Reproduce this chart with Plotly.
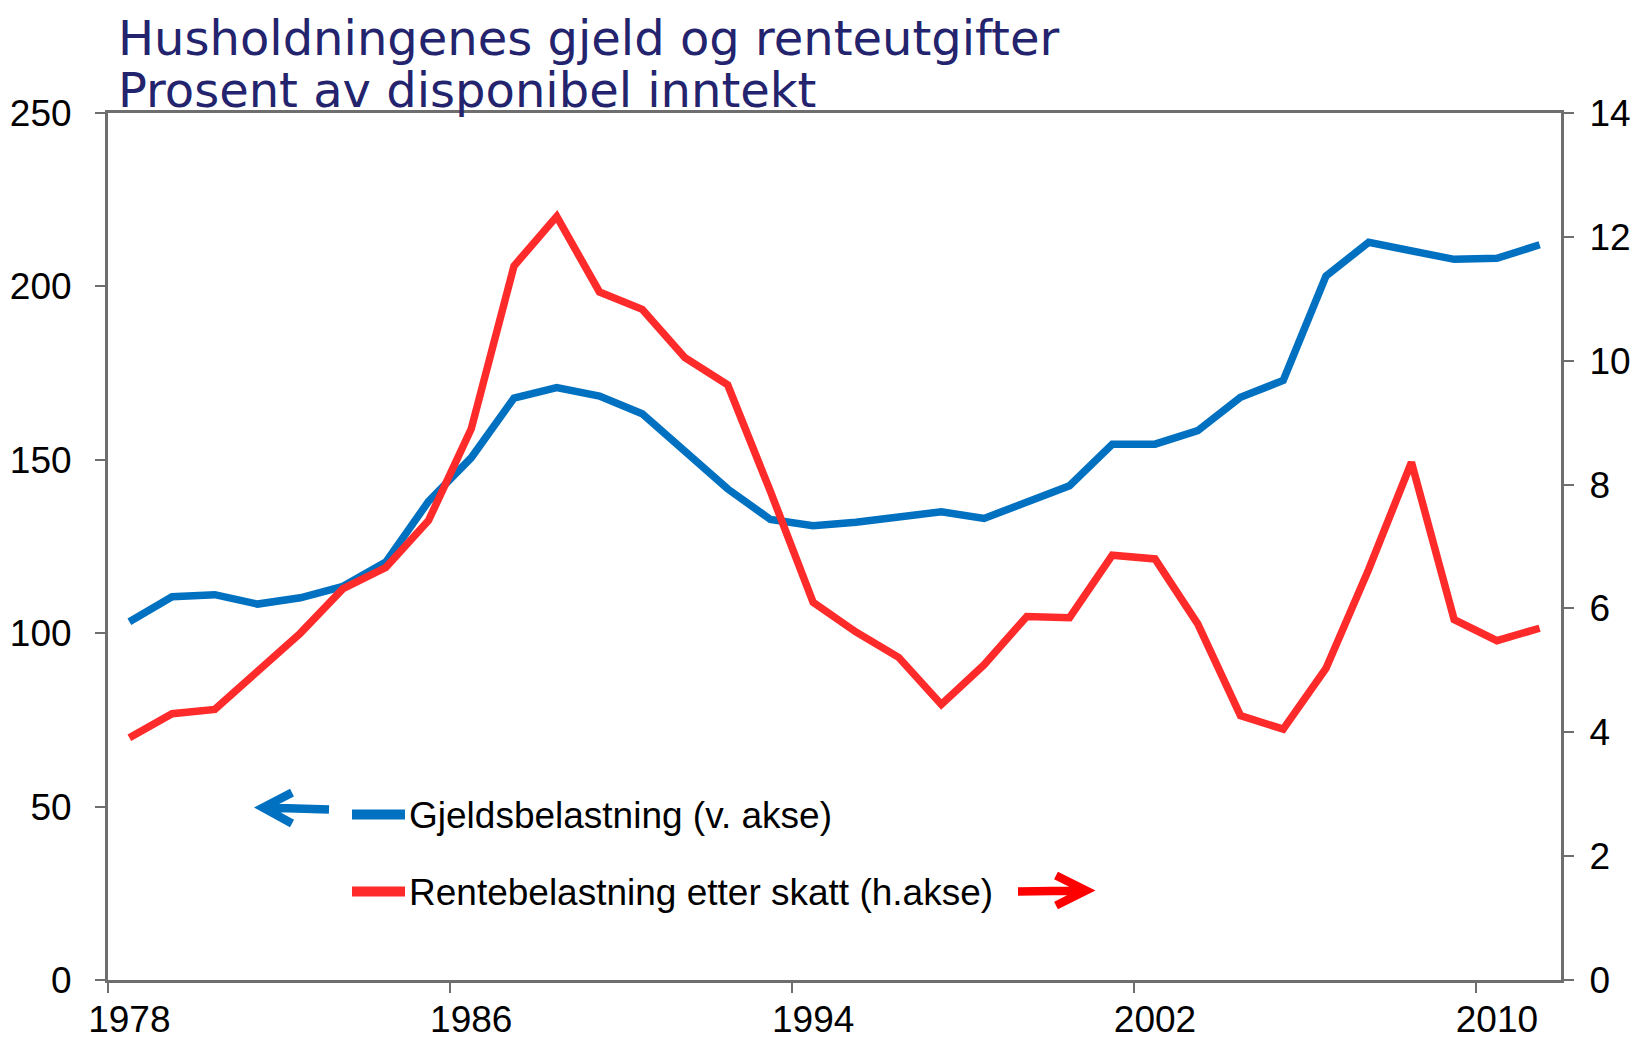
import plotly.graph_objects as go

years = list(range(1978, 2012))
gjeld = [103.3, 110.5, 111.1, 108.4, 110.2, 113.5, 120.5, 138.0, 150.6, 167.8,
         170.8, 168.4, 163.3, 152.4, 141.6, 132.8, 131.0, 132.0, 133.4, 135.0,
         133.1, 138.0, 142.5, 154.5, 154.5, 158.4, 168.0, 172.9, 203.0, 212.7,
         210.5, 207.8, 208.1, 212.0]
rente = [3.91, 4.30, 4.37, 4.97, 5.60, 6.32, 6.66, 7.42, 8.90, 11.53,
         12.33, 11.11, 10.83, 10.05, 9.61, 7.89, 6.10, 5.62, 5.21, 4.45,
         5.09, 5.87, 5.85, 6.86, 6.80, 5.75, 4.27, 4.05, 5.03, 6.63,
         8.36, 5.82, 5.48, 5.68]
tick_labels = ["1978", "1986", "1994", "2002", "2010"]
names = ["Gjeldsbelastning (v. akse)", "Rentebelastning etter skatt (h.akse)"]
title_lines = ["Husholdningenes gjeld og renteutgifter", "Prosent av disponibel inntekt"]

BLUE = "#0070C0"
RED = "#FF2A2A"
AX = "#6E6E6E"
OFF = 8  # default page body margin in the browser
W, H = 1639 - OFF, 1042 - OFF
# plot-area edges in screen pixels
L, R, T, B = 108, 1561, 113, 980.5

def px(xp):
    return (xp - L) / (R - L)

def py(yp):
    return (B - yp) / (B - T)

fig = go.Figure()
fig.add_trace(go.Scatter(x=years, y=gjeld, mode="lines", name=names[0],
                         line=dict(color=BLUE, width=7.5), showlegend=False))
fig.add_trace(go.Scatter(x=years, y=rente, mode="lines", name=names[1],
                         xaxis="x2", yaxis="y2",
                         line=dict(color=RED, width=7.5), showlegend=False))

xrange = [years[0] - 0.5, years[-1] + 0.5]
tick_marks = [int(t) - 0.5 for t in tick_labels]   # tick marks between categories
label_pos = [int(t) for t in tick_labels]          # labels centred on the category
font = dict(family="Liberation Sans, Arial, sans-serif", size=37, color="black")

fig.update_layout(
    width=W, height=H,
    margin=dict(l=L - OFF, r=1639 - R, t=T - OFF, b=1042 - B),
    plot_bgcolor="white", paper_bgcolor="white",
    font=font,
    xaxis=dict(range=xrange, tickvals=tick_marks, showticklabels=False,
               showline=True, linecolor=AX, linewidth=3, mirror=True,
               ticks="outside", ticklen=10, tickwidth=2, tickcolor=AX, automargin=False,
               showgrid=False, zeroline=False),
    xaxis2=dict(range=xrange, overlaying="x", side="bottom", tickvals=label_pos,
                ticktext=tick_labels, ticks="", showline=False, showgrid=False,
                zeroline=False, automargin=False, ticklabelstandoff=14, tickfont=font),
    yaxis=dict(range=[0, 250], dtick=50, showline=True, linecolor=AX, linewidth=3,
               ticks="outside", ticklen=10, tickwidth=2, tickcolor=AX, automargin=False,
               showgrid=False, zeroline=False, ticklabelstandoff=16, tickfont=font),
    yaxis2=dict(range=[0, 14], dtick=2, overlaying="y", side="right", showline=True,
                linecolor=AX, linewidth=3, ticks="outside", ticklen=10, tickwidth=2,
                tickcolor=AX, showgrid=False, zeroline=False, ticklabelstandoff=8,
                automargin=False, tickfont=font),
)

# Title
title_font = dict(family="DejaVu Sans, Verdana, sans-serif", size=48, color="#23236E")
for txt, yc in zip(title_lines, [38, 90]):
    fig.add_annotation(text=txt, xref="paper", yref="paper", x=px(116), y=py(yc),
                       xanchor="left", yanchor="middle", showarrow=False, font=title_font)

# Legend (manual)
for col, yc, txt in [(BLUE, 815, names[0]), (RED, 892, names[1])]:
    fig.add_shape(type="line", xref="paper", yref="paper", x0=px(352), x1=px(405),
                  y0=py(yc), y1=py(yc), line=dict(color=col, width=10))
    fig.add_annotation(text=txt, xref="paper", yref="paper", x=px(407), y=py(yc + 1),
                       xanchor="left", yanchor="middle", showarrow=False, font=font)

# Arrows
def arrow_path(tip, tail, a1, a2):
    return (f"M{px(tail[0])},{py(tail[1])} L{px(tip[0])},{py(tip[1])} "
            f"M{px(a1[0])},{py(a1[1])} L{px(tip[0])},{py(tip[1])} L{px(a2[0])},{py(a2[1])}")

fig.add_shape(type="path", xref="paper", yref="paper",
              path=arrow_path((263, 808), (329, 810), (292, 793), (292, 824)),
              line=dict(color=BLUE, width=8.5))
fig.add_shape(type="path", xref="paper", yref="paper",
              path=arrow_path((1086, 891), (1018, 892), (1056, 876), (1056, 906)),
              line=dict(color="#FF0000", width=8.5))

fig.write_html("out.html")
